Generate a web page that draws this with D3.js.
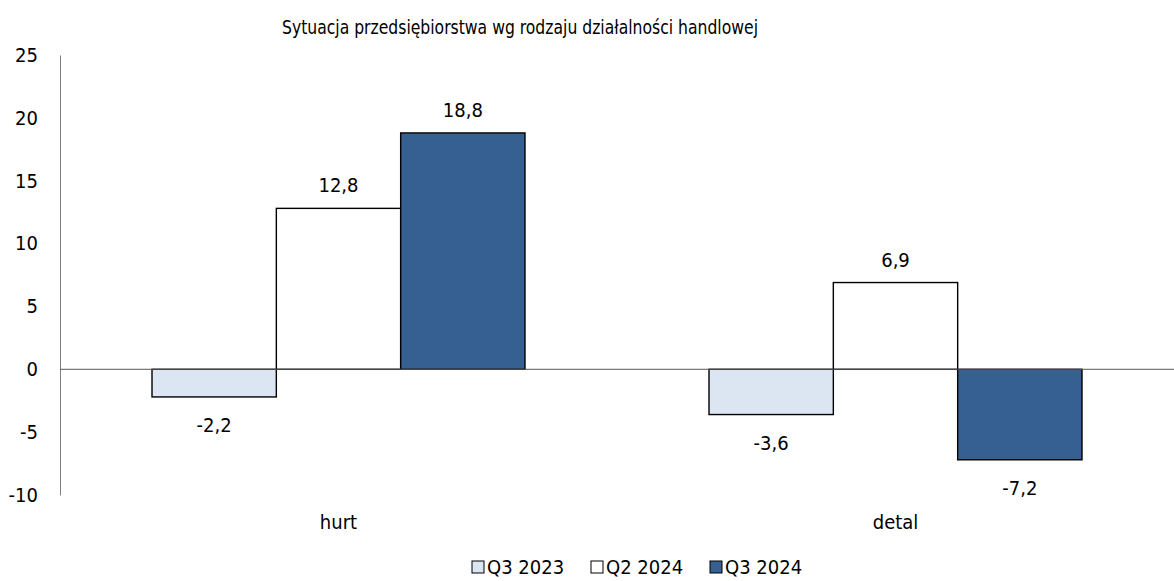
<!DOCTYPE html>
<html>
<head>
<meta charset="utf-8">
<script src="https://cdn.jsdelivr.net/npm/d3@7"></script>
<style>
  body { margin: 0; background: #fff; }
  text { font-family: 'DejaVu Sans Condensed', 'DejaVu Sans', sans-serif; font-stretch: condensed; fill: #000; }
</style>
</head>
<body>
<div id="chart"></div>
<script>
// Chart data
var categories = ['hurt', 'detal']
var seriesNames = ['Q3 2023', 'Q2 2024', 'Q3 2024']
var q3_2023 = [-2.2, -3.6]
var q2_2024 = [12.8, 6.9]
var q3_2024 = [18.8, -7.2]
var yTicks = [25, 20, 15, 10, 5, 0, -5, -10]
var seriesColours = ['#dce6f2', '#ffffff', '#366092']

var chartTitle = 'Sytuacja przedsiębiorstwa wg rodzaju działalności handlowej'

// Layout
var width = 1174
var height = 581
var margin = { top: 55, right: 0, bottom: 86, left: 60 }
var fontSize = '20px'

var seriesValues = [q3_2023, q2_2024, q3_2024]

// rows for each category
var rows = categories.map(function (c, ci) {
  return {
    cat: c,
    vals: seriesNames.map(function (s, si) { return { name: s, idx: si, value: seriesValues[si][ci] } })
  }
})

var svg = d3.select('#chart').append('svg')
  .attr('width', width)
  .attr('height', height)

var x0 = d3.scaleBand()
  .domain(categories)
  .range([margin.left, width - margin.right])

var x1 = d3.scaleBand()
  .domain(seriesNames)
  .range([0, x0.bandwidth()])
  .paddingInner(0)
  .paddingOuter(0.74)

var y = d3.scaleLinear()
  .domain([-10, 25])
  .range([height - margin.bottom, margin.top])

// Title (squeezed a bit, the original font is narrower)
svg.append('text')
  .attr('x', 520)
  .attr('y', 27)
  .attr('dy', '0.35em')
  .attr('text-anchor', 'middle')
  .attr('textLength', 476)
  .attr('lengthAdjust', 'spacingAndGlyphs')
  .style('font-size', fontSize)
  .text(chartTitle)

// Y axis
var yAxis = d3.axisLeft(y)
  .tickValues(yTicks)
  .tickSize(0)
  .tickPadding(22)
  .tickFormat(function (d) { return d })

var yG = svg.append('g')
  .attr('transform', 'translate(' + margin.left + ',0)')
  .call(yAxis)
yG.select('.domain').attr('stroke', '#7f7f7f').attr('stroke-width', 1)
yG.selectAll('text')
  .style('font-size', fontSize)
  .style('font-family', "'DejaVu Sans Condensed', 'DejaVu Sans', sans-serif")
  .style('font-stretch', 'condensed')
  .attr('fill', '#000')

// Bars
var groups = svg.selectAll('.cat')
  .data(rows)
  .enter().append('g')
  .attr('class', 'cat')
  .attr('transform', function (d) { return 'translate(' + x0(d.cat) + ',0)' })

groups.selectAll('rect')
  .data(function (d) { return d.vals })
  .enter().append('rect')
  .attr('x', function (d) { return x1(d.name) })
  .attr('width', x1.bandwidth())
  .attr('y', function (d) { return y(Math.max(0, d.value)) })
  .attr('height', function (d) { return Math.abs(y(d.value) - y(0)) })
  .attr('fill', function (d) { return seriesColours[d.idx] })
  .attr('stroke', '#000')
  .attr('stroke-width', 1.4)

// Zero line
svg.append('line')
  .attr('x1', margin.left)
  .attr('x2', width)
  .attr('y1', y(0))
  .attr('y2', y(0))
  .attr('stroke', '#595959')
  .attr('stroke-width', 1)

// Value labels
groups.selectAll('.val')
  .data(function (d) { return d.vals })
  .enter().append('text')
  .attr('class', 'val')
  .attr('x', function (d) { return x1(d.name) + x1.bandwidth() / 2 })
  .attr('y', function (d) { return d.value >= 0 ? y(d.value) - 23 : y(d.value) + 28 })
  .attr('dy', '0.35em')
  .attr('text-anchor', 'middle')
  .style('font-size', fontSize)
  .text(function (d) { return d3.format('.1f')(d.value).replace('.', ',').replace('−', '-') })

// Category labels
svg.selectAll('.catLabel')
  .data(categories)
  .enter().append('text')
  .attr('class', 'catLabel')
  .attr('x', function (d) { return x0(d) + x0.bandwidth() / 2 })
  .attr('y', 522)
  .attr('dy', '0.35em')
  .attr('text-anchor', 'middle')
  .style('font-size', fontSize)
  .text(function (d) { return d })

// Legend
var legend = svg.selectAll('.legend')
  .data(seriesNames)
  .enter().append('g')
  .attr('class', 'legend')
  .attr('transform', function (d, i) { return 'translate(' + (472 + i * 119) + ',567)' })

legend.append('rect')
  .attr('x', 0)
  .attr('y', -6)
  .attr('width', 12)
  .attr('height', 12)
  .attr('fill', function (d, i) { return seriesColours[i] })
  .attr('stroke', '#000')
  .attr('stroke-width', 1)

legend.append('text')
  .attr('x', 15)
  .attr('y', 0)
  .attr('dy', '0.35em')
  .style('font-size', fontSize)
  .text(function (d) { return d })
</script>
</body>
</html>
